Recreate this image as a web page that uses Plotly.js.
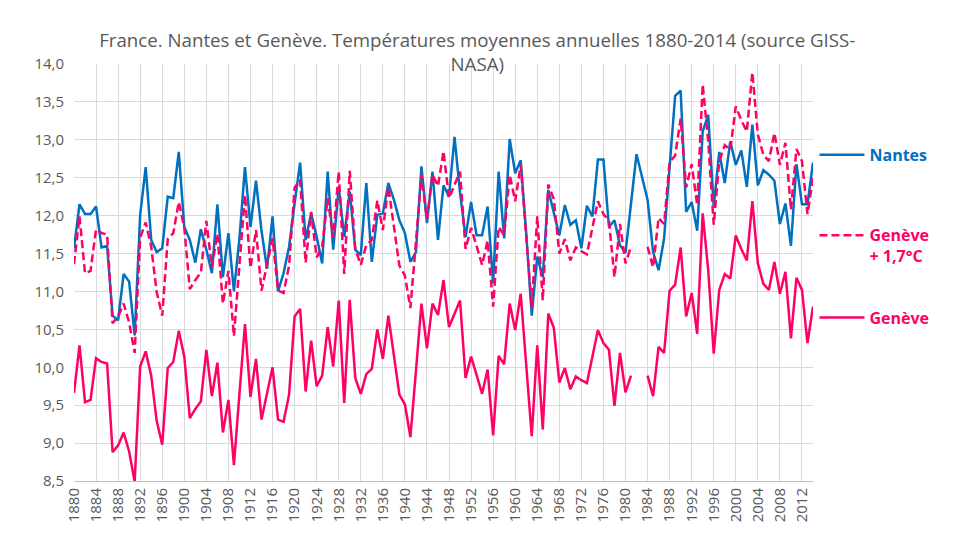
<!DOCTYPE html>
<html><head><meta charset="utf-8">
<script src="https://cdn.plot.ly/plotly-3.0.1.min.js"></script>
<style>html,body{margin:0;padding:0;background:#fff}#chart{width:972px;height:541px}</style>
</head><body><div id="chart"></div>
<script>
const firstYear = 1880;
const nantes = [
  11.57, 12.15, 12.02, 12.02, 12.12, 11.58, 11.60, 10.68, 10.62, 11.23,
  11.13, 10.42, 12.01, 12.64, 11.68, 11.52, 11.57, 12.25, 12.23, 12.84,
  11.85, 11.68, 11.38, 11.82, 11.55, 11.24, 12.15, 11.19, 11.77, 11.00,
  11.70, 12.64, 11.85, 12.46, 11.80, 11.30, 11.99, 11.00, 11.24, 11.59,
  12.16, 12.70, 11.68, 12.03, 11.72, 11.37, 12.58, 11.55, 12.38, 11.72,
  12.32, 11.55, 11.48, 12.43, 11.39, 12.01, 12.03, 12.43, 12.21, 11.94,
  11.77, 11.39, 11.52, 12.65, 11.90, 12.58, 11.68, 12.40, 12.25, 13.04,
  12.30, 11.72, 12.18, 11.74, 11.74, 12.12, 11.11, 12.58, 11.70, 13.01,
  12.56, 12.73, 11.77, 10.68, 11.46, 11.19, 12.34, 12.03, 11.74, 12.14,
  11.88, 11.94, 11.57, 12.13, 11.99, 12.74, 12.74, 11.85, 11.94, 11.61,
  11.51, 12.16, 12.81, 12.51, 12.21, 11.52, 11.28, 11.70, 12.60, 13.58,
  13.65, 12.05, 12.18, 11.80, 13.11, 13.33, 12.12, 12.84, 12.43, 12.98,
  12.67, 12.86, 12.38, 13.20, 12.40, 12.60, 12.54, 12.46, 11.89, 12.16,
  11.60, 12.68, 12.15, 12.15, 12.70
];
const geneve = [
  9.66, 10.29, 9.54, 9.57, 10.12, 10.07, 10.05, 8.88, 8.97, 9.14,
  8.89, 8.49, 10.01, 10.21, 9.89, 9.29, 8.98, 9.99, 10.07, 10.48,
  10.14, 9.33, 9.45, 9.55, 10.23, 9.62, 10.06, 9.14, 9.57, 8.71,
  9.65, 10.57, 9.61, 10.11, 9.31, 9.66, 10.00, 9.31, 9.28, 9.64,
  10.67, 10.77, 9.68, 10.35, 9.75, 9.89, 10.53, 10.01, 10.88, 9.53,
  10.89, 9.86, 9.65, 9.91, 9.98, 10.50, 10.11, 10.68, 10.14, 9.64,
  9.51, 9.08, 9.95, 10.84, 10.25, 10.84, 10.69, 11.15, 10.53, 10.71,
  10.88, 9.86, 10.14, 9.90, 9.65, 9.97, 9.10, 10.15, 10.04, 10.84,
  10.49, 10.97, 10.00, 9.09, 10.29, 9.18, 10.71, 10.52, 9.80, 9.99,
  9.71, 9.88, 9.83, 9.79, 10.14, 10.49, 10.32, 10.23, 9.49, 10.19,
  9.67, 9.89, null, null, 9.89, 9.62, 10.27, 10.19, 11.01, 11.09,
  11.58, 10.67, 10.98, 10.44, 12.03, 11.28, 10.18, 11.02, 11.23, 11.17,
  11.74, 11.56, 11.41, 12.19, 11.37, 11.10, 11.02, 11.39, 10.97, 11.26,
  10.38, 11.18, 11.02, 10.32, 10.80
];
const geneveOffset = 1.7;
const genevePlus = geneve.map(v => v === null ? null : Math.round((v + geneveOffset) * 100) / 100);
const seriesNames = ['Nantes', 'Genève<br>+ 1,7°C', 'Genève'];
const titleText = 'France. Nantes et Genève. Températures moyennes annuelles 1880-2014 (source GISS-<br>NASA)';

const blue = '#0070C0', pink = '#FF0066';
const FONT = 'Open Sans, Liberation Sans, sans-serif';

const traces = [
  {type:'scatter', mode:'lines', name:seriesNames[0], x0:firstYear, dx:1, y:nantes,
   line:{color:blue, width:2.5}, legend:'legend', hoverinfo:'skip'},
  {type:'scatter', mode:'lines', name:seriesNames[1], x0:firstYear, dx:1, y:genevePlus,
   line:{color:pink, width:2.5, dash:'8px,4px'}, connectgaps:false, legend:'legend2', hoverinfo:'skip'},
  {type:'scatter', mode:'lines', name:seriesNames[2], x0:firstYear, dx:1, y:geneve,
   line:{color:pink, width:2.5}, connectgaps:false, legend:'legend3', hoverinfo:'skip'}
];

const legendBase = {xanchor:'left', yanchor:'middle', bgcolor:'rgba(0,0,0,0)', borderwidth:0, valign:'top', itemwidth:45};
const layout = {
  width:972, height:541,
  paper_bgcolor:'#fff', plot_bgcolor:'#fff',
  separators:', ',
  margin:{l:74, r:159, t:64, b:60, pad:0},
  title:{text:titleText, x:0.491, xanchor:'center', xref:'container', y:0.913, yanchor:'top', yref:'container',
         font:{family:FONT, size:18.7, color:'#595959'}},
  xaxis:{range:[1880, 2014], tickmode:'linear', tick0:1880, dtick:4, tickangle:-90,
         showgrid:true, gridcolor:'#d9d9d9', gridwidth:1, zeroline:false,
         showline:true, linecolor:'#bfbfbf', linewidth:1, ticks:'',
         tickfont:{family:FONT, size:15, color:'#595959'}},
  yaxis:{range:[8.5, 14], tickmode:'linear', tick0:8.5, dtick:0.5, tickformat:'.1f',
         showgrid:true, gridcolor:'#d9d9d9', gridwidth:1, zeroline:false, showline:false, ticks:'',
         ticklabelstandoff:9,
         tickfont:{family:FONT, size:15, color:'#595959'}},
  showlegend:true,
  legend: Object.assign({}, legendBase, {x:1.002, y:0.782, font:{family:FONT, size:16, color:blue, weight:'bold'}}),
  legend2: Object.assign({}, legendBase, {x:1.002, y:0.564, font:{family:FONT, size:16, color:pink, weight:'bold'}}),
  legend3: Object.assign({}, legendBase, {x:1.002, y:0.392, font:{family:FONT, size:16, color:pink, weight:'bold'}})
};

Plotly.newPlot('chart', traces, layout, {staticPlot:true, displayModeBar:false});
</script>
</body></html>
